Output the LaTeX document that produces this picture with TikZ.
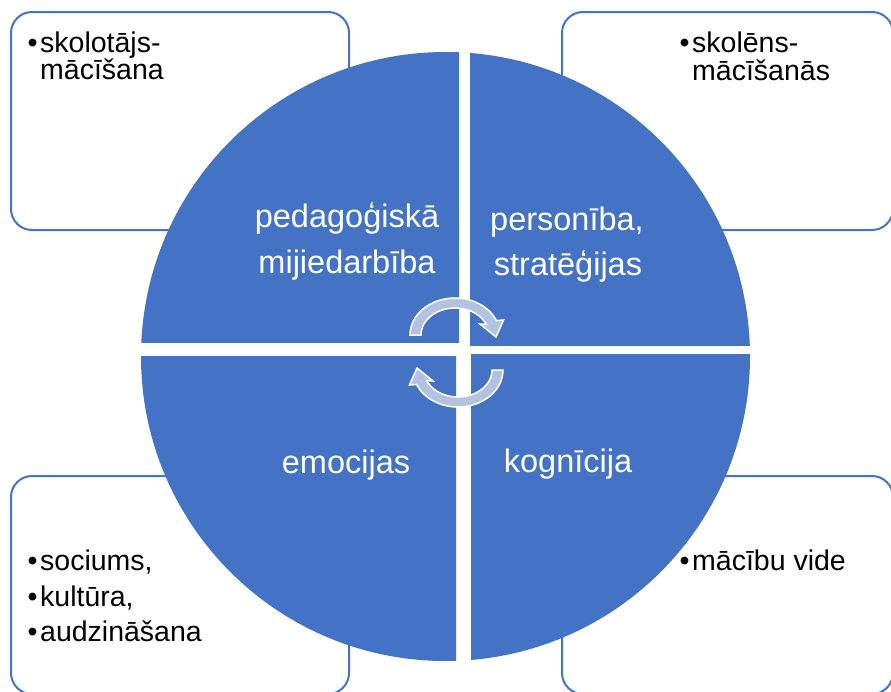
\documentclass[tikz,border=0pt]{standalone}
\usepackage{fontspec}
\setmainfont{Liberation Sans}
\definecolor{quadblue}{HTML}{4472C4}
\definecolor{arrowgrey}{HTML}{B4C2E2}
\begin{document}
\begin{tikzpicture}
[x=1pt,y=-1pt,
  quaddecorate/.style={fill=quadblue},
  boxdecorate/.style={draw=quadblue,line width=2pt,fill=white,rounded corners=21pt},
  arrowdecorate/.style={fill=arrowgrey,draw=white,line width=1.5pt,line join=miter},
  inlabel/.style={text=white,font=\fontsize{32.5}{39}\selectfont,inner sep=0pt,anchor=base},
  outlabel/.style={text=black,font=\fontsize{28.5}{33}\selectfont,inner sep=0pt,anchor=base west}]
\useasboundingbox (0,0) rectangle (891,691);
%% boxes in the corners
\foreach \xa/\ya/\xb/\yb in {11/12/349/230, 562/12/893/230,
  11/476/349/694, 562/476/893/694} {
  \draw[boxdecorate] (\xa,\ya) rectangle (\xb,\yb);
}
%% the four quarters of the circle
\foreach \xa/\ya/\xb/\yb in {0/0/459/342, 470/0/891/345,
  0/356/456/691, 471/354/891/691} {
  \begin{scope}
    \clip (\xa,\ya) rectangle (\xb,\yb);
    \fill[quaddecorate] (445.5,356.5) circle[radius=304.5];
  \end{scope}
}
%% texts in the circle
\foreach \nodename/\x/\y/\txt in {pedag/347/227/pedagoģiskā,
  mijied/347/273/mijiedarbība, person/567/230/{personība,},
  strat/568/275/stratēģijas, emoc/346/473/emocijas, kogn/568/472/kognīcija} {
  \node[inlabel] (\nodename) at (\x,\y) {\txt};
}
%% texts in the boxes
\foreach \nodename/\x/\y/\txt in {skolot/40/52/{\llap{•\hspace{2.5pt}}skolotājs-},
  macisana/40/79/mācīšana, skolen/692/52/{\llap{•\hspace{2.5pt}}skolēns-},
  macisanas/692/80/mācīšanās, socium/40/570/{\llap{•\hspace{2.5pt}}sociums,},
  kultur/40/606/{\llap{•\hspace{2.5pt}}kultūra,},
  audzin/40/641/{\llap{•\hspace{2.5pt}}audzināšana},
  vide/692/570/{\llap{•\hspace{2.5pt}}mācību vide}} {
  \node[outlabel] (\nodename) at (\x,\y) {\txt};
}
%% cycle arrows in the middle
\foreach \cx/\cy/\turn in {455/335/0, 458/370/180} {
  \begin{scope}[shift={(\cx,\cy)},rotate=\turn]
    \filldraw[arrowdecorate] (180:45 and 37)
      arc[start angle=180,end angle=337,x radius=45,y radius=37]
      -- (48.5,-15) -- (41,2) -- (25,-11) -- (337:34 and 27)
      arc[start angle=337,end angle=180,x radius=34,y radius=27] -- cycle;
  \end{scope}
}
\end{tikzpicture}
\end{document}
